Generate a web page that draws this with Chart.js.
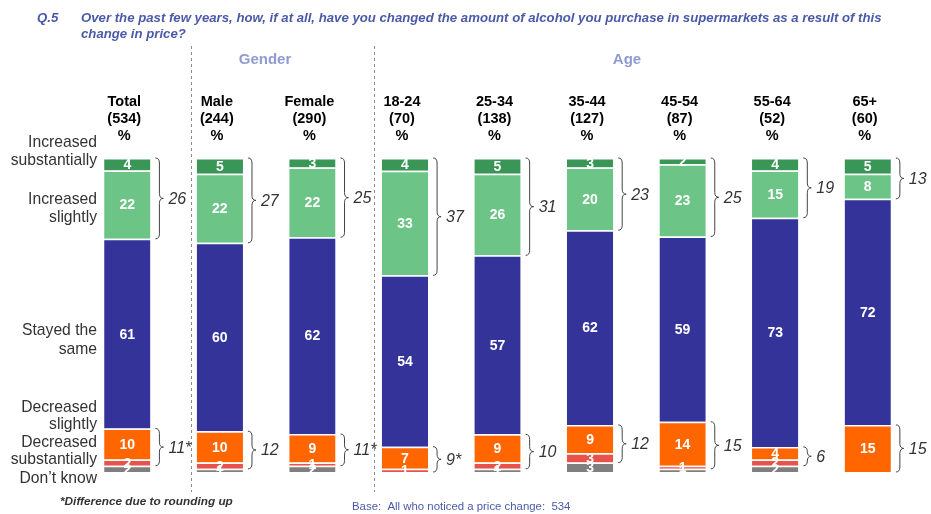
<!DOCTYPE html>
<html>
<head>
<meta charset="utf-8">
<script src="https://cdn.jsdelivr.net/npm/chart.js@4.4.1/dist/chart.umd.min.js"></script>
<style>
  html, body { margin: 0; padding: 0; background: #fff; }
  #wrap { position: relative; width: 931px; height: 514px; }
</style>
</head>
<body>
<div id="wrap"><canvas id="chart" width="931" height="514"></canvas></div>
<script>
const columns = ["Total", "Male", "Female", "18-24", "25-34", "35-44", "45-54", "55-64", "65+"];
const bases = ["(534)", "(244)", "(290)", "(70)", "(138)", "(127)", "(87)", "(52)", "(60)"];

const incSub = [4, 5, 3, 4, 5, 3, 2, 4, 5];
const incSlight = [22, 22, 22, 33, 26, 20, 23, 15, 8];
const stayed = [61, 60, 62, 54, 57, 62, 59, 73, 72];
const decSlight = [10, 10, 9, 7, 9, 9, 14, 4, 15];
const decSub = [2, 2, 1, 1, 2, 3, 1, 2, 0];
const dontKnow = [2, 1, 2, 0, 1, 3, 1, 2, 0];

const netIncrease = ["26", "27", "25", "37", "31", "23", "25", "19", "13"];
const netDecrease = ["11*", "12", "11*", "9*", "10", "12", "15", "6", "15"];

const FONT = "Arial, 'Liberation Sans', sans-serif";

// 100% stacked: each column fills the bar
const totals = columns.map((_, i) =>
  incSub[i] + incSlight[i] + stayed[i] + decSlight[i] + decSub[i] + dontKnow[i]);
const share = arr => arr.map((v, i) => v / totals[i] * 100);

const series = [
  { label: "Don't know", raw: dontKnow, color: "#7f7f7f" },
  { label: "Decreased substantially", raw: decSub, color: "#e9524a" },
  { label: "Decreased slightly", raw: decSlight, color: "#ff6600" },
  { label: "Stayed the same", raw: stayed, color: "#343399" },
  { label: "Increased slightly", raw: incSlight, color: "#6cc486" },
  { label: "Increased substantially", raw: incSub, color: "#3a9656" }
];

const drawBrace = (ctx, x, y1, y2, w) => {
  const ym = (y1 + y2) / 2;
  const r = Math.min(5, (y2 - y1) / 4);
  ctx.beginPath();
  ctx.moveTo(x, y1);
  ctx.quadraticCurveTo(x + w / 2, y1, x + w / 2, y1 + r);
  ctx.lineTo(x + w / 2, ym - r);
  ctx.quadraticCurveTo(x + w / 2, ym, x + w, ym);
  ctx.quadraticCurveTo(x + w / 2, ym, x + w / 2, ym + r);
  ctx.lineTo(x + w / 2, y2 - r);
  ctx.quadraticCurveTo(x + w / 2, y2, x, y2);
  ctx.stroke();
};

const decorations = {
  id: "decorations",
  afterDraw(chart) {
    const ctx = chart.ctx;
    const xs = chart.scales.x;
    ctx.save();

    // title
    ctx.fillStyle = "#4a5aa8";
    ctx.font = "bold italic 13.2px " + FONT;
    ctx.textBaseline = "middle";
    ctx.textAlign = "left";
    ctx.fillText("Q.5", 37, 18);
    ctx.fillText("Over the past few years, how, if at all, have you changed the amount of alcohol you purchase in supermarkets as a result of this", 81, 18);
    ctx.fillText("change in price?", 81, 34);

    // group headers
    ctx.fillStyle = "#8f9bd3";
    ctx.font = "bold 15px " + FONT;
    ctx.textAlign = "center";
    ctx.fillText("Gender", 265, 60);
    ctx.fillText("Age", 627, 60);

    // dashed separators
    ctx.strokeStyle = "#8c8c8c";
    ctx.lineWidth = 1;
    ctx.setLineDash([3, 3]);
    [191.5, 374.5].forEach(x => {
      ctx.beginPath();
      ctx.moveTo(x, 46);
      ctx.lineTo(x, 492);
      ctx.stroke();
    });
    ctx.setLineDash([]);

    // column headers
    ctx.fillStyle = "#000";
    ctx.font = "bold 14.5px " + FONT;
    columns.forEach((c, i) => {
      const x = xs.getPixelForValue(i) - 3;
      ctx.fillText(c, x, 102);
      ctx.fillText(bases[i], x, 119);
      ctx.fillText("%", x, 136);
    });

    // row labels
    ctx.fillStyle = "#333";
    ctx.font = "15.7px " + FONT;
    ctx.textAlign = "right";
    [["Increased", 143], ["substantially", 161], ["Increased", 200], ["slightly", 218],
     ["Stayed the", 331], ["same", 350], ["Decreased", 408], ["slightly", 425],
     ["Decreased", 443], ["substantially", 460], ["Don\u2019t know", 479]]
      .forEach(([t, y]) => ctx.fillText(t, 97, y));

    // footnotes
    ctx.textAlign = "left";
    ctx.fillStyle = "#333";
    ctx.font = "bold italic 11.8px " + FONT;
    ctx.fillText("*Difference due to rounding up", 60, 502);
    ctx.fillStyle = "#4a5aa8";
    ctx.font = "11.4px " + FONT;
    ctx.fillText("Base:  All who noticed a price change:  534", 352, 507);

    // segment values
    ctx.fillStyle = "#fff";
    ctx.font = "bold 14px " + FONT;
    ctx.textAlign = "center";
    series.forEach((s, di) => {
      chart.getDatasetMeta(di).data.forEach((bar, i) => {
        const v = s.raw[i];
        ctx.fillText(v === 0 ? "-" : String(v), bar.x, (bar.y + bar.base) / 2 + 1);
      });
    });

    // braces and net figures
    ctx.strokeStyle = "#444";
    ctx.lineWidth = 1;
    ctx.fillStyle = "#333";
    ctx.font = "italic 16px " + FONT;
    ctx.textAlign = "left";
    const metaIncSub = chart.getDatasetMeta(5).data;
    const metaIncSl = chart.getDatasetMeta(4).data;
    const metaDecSl = chart.getDatasetMeta(2).data;
    const metaDecSub = chart.getDatasetMeta(1).data;
    columns.forEach((_, i) => {
      const right = metaIncSub[i].x + metaIncSub[i].width / 2;
      const bx = right + 5;
      const t1 = metaIncSub[i].y, b1 = metaIncSl[i].base;
      drawBrace(ctx, bx, t1, b1, 8);
      ctx.fillText(netIncrease[i], bx + 13, (t1 + b1) / 2 + 1);
      const t2 = metaDecSl[i].y, b2 = metaDecSub[i].base;
      drawBrace(ctx, bx, t2, b2, 8);
      ctx.fillText(netDecrease[i], bx + 13, (t2 + b2) / 2 + 1);
    });

    ctx.restore();
  }
};

new Chart(document.getElementById("chart"), {
  type: "bar",
  data: {
    labels: columns,
    datasets: series.map(s => ({
      label: s.label,
      data: share(s.raw),
      backgroundColor: s.color,
      borderColor: "#ffffff",
      borderWidth: { top: 1.5, bottom: 0, left: 0, right: 0 },
      borderSkipped: false,
      barPercentage: 0.5,
      categoryPercentage: 1
    }))
  },
  options: {
    responsive: false,
    animation: false,
    layout: { padding: { left: 81, right: 17, top: 158, bottom: 42 } },
    plugins: { legend: { display: false }, tooltip: { enabled: false } },
    scales: {
      x: { stacked: true, display: false },
      y: { stacked: true, display: false, min: 0, max: 100 }
    }
  },
  plugins: [decorations]
});
</script>
</body>
</html>
